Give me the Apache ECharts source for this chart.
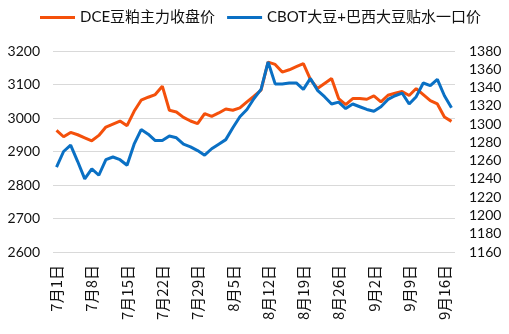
<!DOCTYPE html>
<html>
<head>
<meta charset="utf-8">
<script src="https://cdn.jsdelivr.net/npm/echarts@6/dist/echarts.min.js"></script>
<style>
html,body{margin:0;padding:0;background:#fff;}
#chart{width:509px;height:334px;}
</style>
</head>
<body>
<div id="chart"></div>
<script>
var categories = [
  '7月1日','7月2日','7月3日','7月4日','7月5日',
  '7月8日','7月9日','7月10日','7月11日','7月12日',
  '7月15日','7月16日','7月17日','7月18日','7月19日',
  '7月22日','7月23日','7月24日','7月25日','7月26日',
  '7月29日','7月30日','7月31日','8月1日','8月2日',
  '8月5日','8月6日','8月7日','8月8日','8月9日',
  '8月12日','8月13日','8月14日','8月15日','8月16日',
  '8月19日','8月20日','8月21日','8月22日','8月23日',
  '8月26日','8月27日','8月28日','8月29日','8月30日',
  '9月2日','9月3日','9月4日','9月5日','9月6日',
  '9月9日','9月10日','9月11日','9月12日','9月13日',
  '9月16日','9月17日'
];
var seriesNames = ['DCE豆粕主力收盘价', 'CBOT大豆+巴西大豆贴水一口价'];
var dceValues = [
  2963,2944,2957,2950,2941,2932,2948,2973,2982,2991,
  2977,3020,3053,3062,3070,3095,3023,3018,3002,2991,
  2983,3013,3005,3015,3027,3023,3030,3048,3065,3083,
  3167,3160,3137,3144,3153,3162,3115,3088,3103,3118,
  3058,3040,3058,3058,3056,3066,3048,3068,3074,3079,
  3067,3088,3070,3052,3042,3003,2990
];
var cbotValues = [
  1253,1270,1277,1259,1240,1251,1244,1261,1264,1261,
  1255,1278,1294,1289,1282,1282,1287,1285,1278,1275,
  1271,1266,1273,1278,1283,1296,1308,1316,1328,1338,
  1368,1344,1344,1345,1345,1338,1350,1337,1330,1322,
  1324,1317,1322,1319,1316,1314,1319,1327,1331,1334,
  1322,1330,1345,1342,1349,1331,1318
];
var leftTicks = {min: 2600, max: 3200, interval: 100};
var rightTicks = {min: 1160, max: 1380, interval: 20};

var chart = echarts.init(document.getElementById('chart'), null, {renderer: 'canvas'});
var fontLat = 'Lato, "Noto Sans CJK SC", sans-serif';
function plain(v) { return String(v); }
chart.setOption({
  animation: false,
  backgroundColor: '#fff',
  color: ['#F4500B', '#0A70C4'],
  legend: {
    left: 35, top: 5,
    itemWidth: 35, itemHeight: 3, itemGap: 12,
    icon: 'rect',
    textStyle: {fontSize: 15, color: '#111', fontFamily: fontLat},
    data: seriesNames
  },
  grid: {left: 53, right: 54, top: 51, height: 201, containLabel: false},
  xAxis: {
    type: 'category',
    data: categories,
    boundaryGap: true,
    axisLine: {show: false},
    axisTick: {show: false},
    axisLabel: {
      interval: 4, rotate: 90, margin: 13,
      fontSize: 15, color: '#111', fontFamily: '"Noto Sans CJK SC", sans-serif'
    }
  },
  yAxis: [{
    type: 'value',
    min: leftTicks.min, max: leftTicks.max, interval: leftTicks.interval,
    axisLine: {show: false}, axisTick: {show: false},
    axisLabel: {fontSize: 14, color: '#111', margin: 13, fontFamily: fontLat, formatter: plain},
    splitLine: {lineStyle: {color: '#D9D9D9', width: 1}}
  }, {
    type: 'value',
    min: rightTicks.min, max: rightTicks.max, interval: rightTicks.interval,
    axisLine: {show: false}, axisTick: {show: false},
    axisLabel: {fontSize: 14, color: '#111', margin: 14, fontFamily: fontLat, formatter: plain},
    splitLine: {show: false}
  }],
  series: [{
    name: seriesNames[0], type: 'line', yAxisIndex: 0,
    data: dceValues, showSymbol: false, symbol: 'none',
    lineStyle: {width: 3}
  }, {
    name: seriesNames[1], type: 'line', yAxisIndex: 1,
    data: cbotValues, showSymbol: false, symbol: 'none',
    lineStyle: {width: 3}
  }]
});
</script>
</body>
</html>
